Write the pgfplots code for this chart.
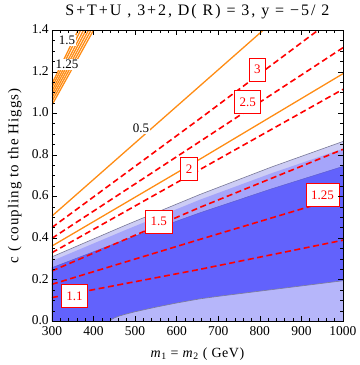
\documentclass[border=0pt]{standalone}
\usepackage{pgfplots}
\pgfplotsset{compat=1.18}
\usepackage{fontspec}
\setmainfont{Liberation Serif}
\newfontfamily\lstitle{Liberation Serif}[LetterSpace=12]
\newfontfamily\lsylab{Liberation Serif}[LetterSpace=7]
\newfontfamily\lsxlab{Liberation Serif}[LetterSpace=4]
\definecolor{orng}{RGB}{255,140,20}
\definecolor{darkb}{RGB}{98,98,252}
\definecolor{medb}{RGB}{165,165,250}
\definecolor{lightb}{RGB}{205,205,245}
\definecolor{botb}{RGB}{182,182,250}
\definecolor{edgec}{RGB}{120,120,150}
\definecolor{edged}{RGB}{90,90,200}
\tikzset{rl/.style={draw=red, line width=0.8pt, fill=white, text=red, font=\fontsize{13}{15}\selectfont, inner xsep=5pt, minimum height=23pt}}
\begin{document}
\begin{tikzpicture}
\begin{axis}[
  scale only axis, width=291pt, height=291pt,
  xmin=300, xmax=1000, ymin=0, ymax=1.4,
  xtick={300,400,500,600,700,800,900,1000},
  ytick={0,0.2,0.4,0.6,0.8,1.0,1.2,1.4},
  xticklabels={300,400,500,600,700,800,900,1000},
  yticklabels={0.0,0.2,0.4,0.6,0.8,1.0,1.2,1.4},
  minor x tick num=4, minor y tick num=3,
  tick align=inside, major tick length=5pt, minor tick length=3pt,
  tick style={black, line width=0.6pt},
  axis line style={line width=0.8pt},
  tick label style={font=\fontsize{13.5}{15}\selectfont},
  xticklabel style={inner ysep=0pt, yshift=-5pt},
  yticklabel style={inner ysep=0pt, inner xsep=3pt, yshift=1pt},
  title={S+T+U , 3+2, D( R) = 3, y = −5/ 2},
  title style={font=\fontsize{16}{18}\selectfont\lstitle, inner ysep=4pt, yshift=1.5pt},
  xlabel={\textit{m}\textsubscript{1} = \textit{m}\textsubscript{2} ( GeV)},
  ylabel={c ( coupling to the Higgs)},
  xlabel style={font=\fontsize{14}{16}\selectfont\lsxlab, inner ysep=5pt, yshift=-6.5pt},
  ylabel style={font=\fontsize{15}{17}\selectfont\lsylab, inner ysep=8pt, yshift=-1pt},
  axis on top,
  clip=true,
]
% light band
\addplot[fill=lightb, draw=none] coordinates {(300,0.31)(478,0.463)(656,0.61)(828,0.742)(1000,0.865)(1000,0)(300,0)};
% medium band
\addplot[fill=medb, draw=none] coordinates {(300,0.29)(478,0.44)(656,0.585)(828,0.712)(1000,0.83)(1000,0)(300,0)};
% dark region
\addplot[fill=darkb, draw=none] coordinates {(300,0)(300,0.258)(478,0.394)(656,0.522)(828,0.637)(1000,0.745)(1000,0.195)(900,0.17)(800,0.145)(752,0.133)(700,0.12)(656,0.108)(600,0.088)(550,0.068)(500,0.046)(475,0.033)(460,0.024)(450,0.016)(443,0.008)(440,0)};
% bottom region
\addplot[fill=botb, draw=none] coordinates {(440,0)(443,0.008)(450,0.016)(460,0.024)(475,0.033)(500,0.046)(550,0.068)(600,0.088)(656,0.108)(700,0.12)(752,0.133)(800,0.145)(900,0.17)(1000,0.195)(1000,0)};
% edges
\addplot[draw=edgec, line width=0.6pt] coordinates {(300,0.31)(478,0.463)(656,0.61)(828,0.742)(1000,0.865)};
\addplot[draw=edged, line width=0.4pt] coordinates {(300,0.258)(478,0.394)(656,0.522)(828,0.637)(1000,0.745)};
\addplot[draw=edgec, line width=0.6pt] coordinates {(440,0)(443,0.008)(450,0.016)(460,0.024)(475,0.033)(500,0.046)(550,0.068)(600,0.088)(656,0.108)(700,0.12)(752,0.133)(800,0.145)(900,0.17)(1000,0.195)};
% orange solid lines
\addplot[draw=orng, line width=1.3pt] coordinates {(300,0.506)(808,1.4)};
\addplot[draw=orng, line width=1.3pt] coordinates {(300,0.362)(656,0.78)(1000,1.191)};
\addplot[draw=orng, line width=1.3pt] coordinates {(300,1.04)(400,1.4)};
\addplot[draw=orng, line width=1.3pt] coordinates {(300,1.058)(394,1.4)};
\addplot[draw=orng, line width=1.3pt] coordinates {(300,1.075)(388,1.4)};
\addplot[draw=orng, line width=1.3pt] coordinates {(300,1.092)(382,1.4)};
\addplot[draw=orng, line width=1.3pt] coordinates {(300,1.108)(376,1.4)};
\addplot[draw=orng, line width=1.3pt] coordinates {(300,1.125)(369,1.4)};
\addplot[draw=orng, line width=1.3pt] coordinates {(300,1.142)(363,1.4)};
% red dashed lines
\addplot[draw=red, line width=1.6pt, dash pattern=on 6pt off 3.5pt] coordinates {(300,0.114)(656,0.25)(1000,0.39)};
\addplot[draw=red, line width=1.6pt, dash pattern=on 6pt off 3.5pt] coordinates {(300,0.178)(656,0.394)(1000,0.60)};
\addplot[draw=red, line width=1.6pt, dash pattern=on 6pt off 3.5pt] coordinates {(300,0.242)(656,0.548)(1000,0.827)};
\addplot[draw=red, line width=1.6pt, dash pattern=on 6pt off 3.5pt] coordinates {(300,0.33)(656,0.73)(1000,1.116)};
\addplot[draw=red, line width=1.6pt, dash pattern=on 6pt off 3.5pt] coordinates {(300,0.399)(656,0.865)(1000,1.316)};
\addplot[draw=red, line width=1.6pt, dash pattern=on 6pt off 3.5pt] coordinates {(300,0.451)(656,0.975)(940,1.4)};
% labels
\node[rl] at (axis cs:354,0.12) {1.1};
\node[rl] at (axis cs:557,0.48) {1.5};
\node[rl] at (axis cs:951,0.606) {1.25};
\node[rl] at (axis cs:630,0.733) {2};
\node[rl] at (axis cs:771,1.053) {2.5};
\node[rl] at (axis cs:794,1.21) {3};
\node[fill=white, inner sep=1pt, font=\fontsize{13}{15}\selectfont] at (axis cs:514,0.928) {0.5};
\node[fill=white, inner sep=1pt, font=\fontsize{13}{15}\selectfont] at (axis cs:336,1.35) {1.5};
\node[fill=white, inner sep=1pt, font=\fontsize{13}{15}\selectfont] at (axis cs:336,1.236) {1.25};
\end{axis}
\end{tikzpicture}
\end{document}
